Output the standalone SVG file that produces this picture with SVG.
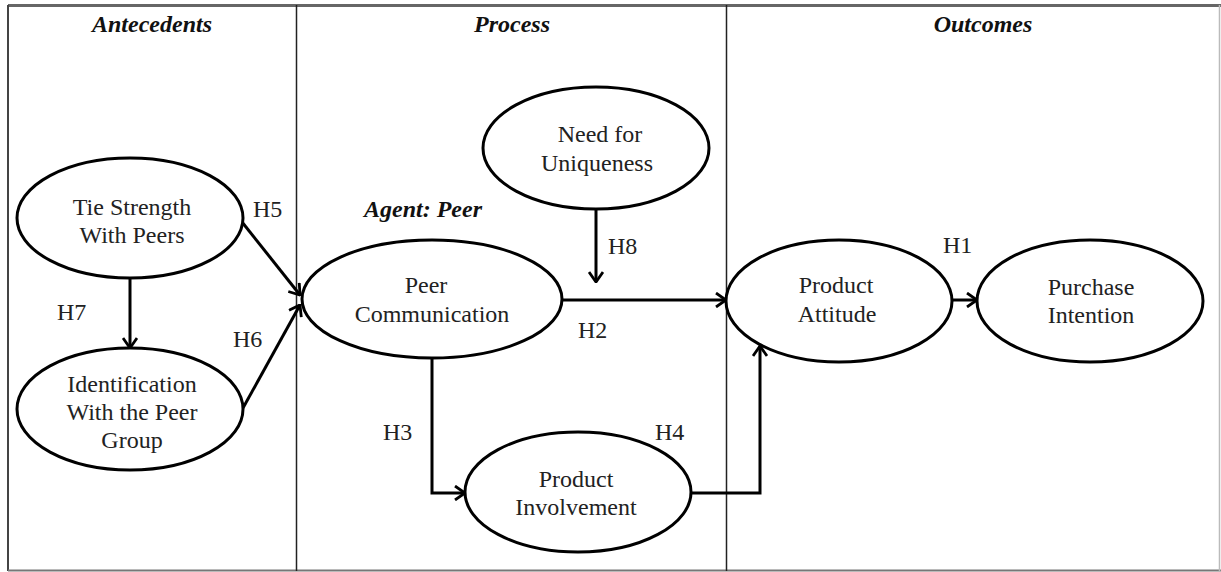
<svg xmlns="http://www.w3.org/2000/svg" width="1221" height="572" viewBox="0 0 1221 572">
<style>
.frame{fill:#fff;stroke:none}
.div{stroke:#222;stroke-width:1.5;fill:none}
.node ellipse{fill:#fff;stroke:#000;stroke-width:3}
text{font-family:"Liberation Serif","Times New Roman",serif;font-size:24px;fill:#222;text-anchor:middle}
.hd{font-weight:bold;font-style:italic;fill:#111}
.lbl{text-anchor:start}
.conn path{fill:none;stroke:#000;stroke-width:3}
</style>
<defs>
<marker id="arr" viewBox="0 0 12 16" refX="11" refY="8" markerWidth="12" markerHeight="16" markerUnits="userSpaceOnUse" orient="auto">
<path d="M1,1 L11,8 L1,15" fill="none" stroke="#000" stroke-width="2.8"/>
</marker>
</defs>
<rect x="0" y="0" width="1221" height="572" fill="#fff"/>
<g id="frame">
<line x1="8" y1="5.5" x2="1221" y2="5.5" stroke="#666" stroke-width="3"/>
<line x1="8" y1="5" x2="8" y2="571" stroke="#444" stroke-width="2"/>
<line x1="8" y1="570.5" x2="1221" y2="570.5" stroke="#777" stroke-width="2"/>
<line x1="1219.5" y1="5" x2="1219.5" y2="571" stroke="#bbb" stroke-width="1.5"/>
<line class="div" x1="296.5" y1="5" x2="296.5" y2="571"/>
<line class="div" x1="726.5" y1="5" x2="726.5" y2="571"/>
</g>
<g id="headers">
<text class="hd" x="152" y="32">Antecedents</text>
<text class="hd" x="512" y="32">Process</text>
<text class="hd" x="983" y="32">Outcomes</text>
<text class="hd" x="423" y="217">Agent: Peer</text>
</g>
<g id="connectors" class="conn">
<path d="M242,222 L300,295" marker-end="url(#arr)"/>
<path d="M243,408 L300,305" marker-end="url(#arr)"/>
<path d="M130,278 L130,348" marker-end="url(#arr)"/>
<path d="M596,209 L596,282" marker-end="url(#arr)"/>
<path d="M562,300 L726,300" marker-end="url(#arr)"/>
<path d="M432,358 V493 H465" marker-end="url(#arr)"/>
<path d="M692,493 H760 V346" marker-end="url(#arr)"/>
<path d="M952,300 L977,300" marker-end="url(#arr)"/>
</g>
<g id="n-tie" class="node">
<ellipse cx="130" cy="218" rx="113" ry="60"/>
<text x="132" y="215">Tie Strength</text>
<text x="132" y="243">With Peers</text>
</g>
<g id="n-ident" class="node">
<ellipse cx="130" cy="409" rx="113" ry="61"/>
<text x="132" y="392">Identification</text>
<text x="132" y="420">With the Peer</text>
<text x="132" y="448">Group</text>
</g>
<g id="n-peer" class="node">
<ellipse cx="432" cy="299" rx="130" ry="59"/>
<text x="426" y="293">Peer</text>
<text x="432" y="322">Communication</text>
</g>
<g id="n-need" class="node">
<ellipse cx="596" cy="148" rx="113" ry="61"/>
<text x="600" y="142">Need for</text>
<text x="597" y="171">Uniqueness</text>
</g>
<g id="n-inv" class="node">
<ellipse cx="578" cy="492" rx="113" ry="60"/>
<text x="576" y="487">Product</text>
<text x="576" y="515">Involvement</text>
</g>
<g id="n-att" class="node">
<ellipse cx="839" cy="301" rx="113" ry="61"/>
<text x="836" y="293">Product</text>
<text x="837" y="322">Attitude</text>
</g>
<g id="n-pur" class="node">
<ellipse cx="1090" cy="301" rx="113" ry="61"/>
<text x="1091" y="295">Purchase</text>
<text x="1091" y="323">Intention</text>
</g>
<g id="labels">
<text class="lbl" x="253" y="217">H5</text>
<text class="lbl" x="57" y="320">H7</text>
<text class="lbl" x="233" y="347">H6</text>
<text class="lbl" x="608" y="254">H8</text>
<text class="lbl" x="578" y="338">H2</text>
<text class="lbl" x="383" y="440">H3</text>
<text class="lbl" x="655" y="440">H4</text>
<text class="lbl" x="943" y="253">H1</text>
</g>
</svg>
